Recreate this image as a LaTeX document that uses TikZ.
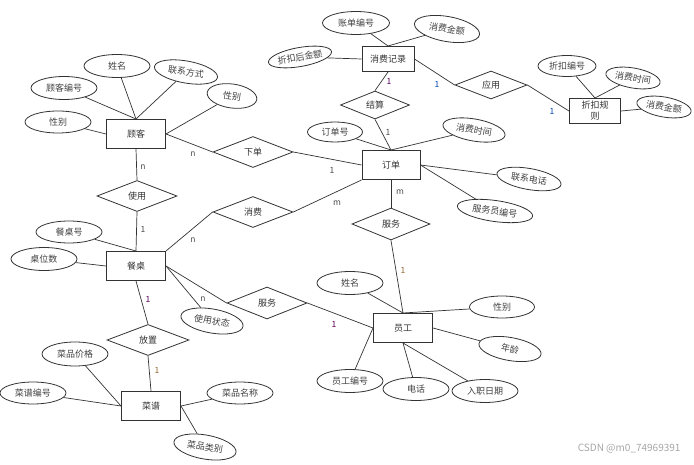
\documentclass[tikz,border=0pt]{standalone}
\usepackage{fontspec}
\setmainfont{Noto Sans CJK SC}
\usetikzlibrary{shapes.geometric}

\begin{document}
\begin{tikzpicture}[
    x=1pt, y=-1pt,
    ent/.style={draw=black!80, line width=1pt, rectangle, minimum width=59pt, minimum height=29pt, inner sep=1pt, font=\fontsize{9}{11}\selectfont, text=black!80, align=center},
    rel/.style={draw=black!80, line width=0.8pt, diamond, minimum width=80pt, minimum height=31pt, inner sep=0pt, font=\fontsize{9}{11}\selectfont, text=black!80},
    attr/.style={draw=black!80, line width=0.8pt, ellipse, minimum width=66pt, minimum height=23pt, inner sep=0pt, font=\fontsize{9}{11}\selectfont, text=black!75},
    card/.style={font=\fontsize{8.5}{10}\selectfont, text=black!70},
    lk/.style={draw=black!80, line width=0.7pt}
]
    \useasboundingbox (0,0) rectangle (694,465);

    % Entities
    \node[ent] (gk) at (136,134) {顾客};
    \node[ent, minimum width=52pt, minimum height=25pt] (xfjl) at (388,59) {消费记录};
    \node[ent, minimum width=51pt, minimum height=25pt] (zkgz) at (595,111) {折扣规\\则};
    \node[ent, minimum width=58pt] (dd) at (391,165) {订单};
    \node[ent] (cz) at (136,266) {餐桌};
    \node[ent] (yg) at (403,328) {员工};
    \node[ent] (cp) at (151,406) {菜谱};

    % Relationships
    \node[rel] (xd) at (253,152) {下单};
    \node[rel] (xf) at (253,212) {消费};
    \node[rel] (sy) at (137,196) {使用};
    \node[rel, minimum width=69pt, minimum height=28pt] (js) at (375,105) {结算};
    \node[rel, minimum width=72pt, minimum height=28pt] (yy) at (491,85) {应用};
    \node[rel, minimum width=78pt, minimum height=32pt] (fw1) at (391,224) {服务};
    \node[rel, minimum width=80pt, minimum height=32pt] (fw2) at (267,303) {服务};
    \node[rel, minimum width=82pt] (fz) at (148,340) {放置};

    % Attributes: 顾客
    \node[attr] (gk1) at (64,88) {顾客编号};
    \node[attr] (gk2) at (117,66) {姓名};
    \node[attr, rotate=-10, minimum width=64pt, minimum height=22pt] (gk3) at (186,72) {联系方式};
    \node[attr, rotate=-8, minimum width=50pt, minimum height=24pt] (gk4) at (232,96) {性别};
    \node[attr, minimum height=22pt] (gk5) at (58,122) {性别};
    \draw[lk] (gk1) -- (gk.north);
    \draw[lk] (gk2) -- (gk.north);
    \draw[lk] (gk3) -- (gk.north);
    \draw[lk] (gk4) -- (gk.east);
    \draw[lk] (gk5) -- (gk.west);

    % Attributes: 消费记录
    \node[attr, minimum width=67pt] (xfjl1) at (356,23) {账单编号};
    \node[attr, rotate=-10, minimum width=66pt, minimum height=25pt] (xfjl2) at (447,29) {消费金额};
    \node[attr, rotate=10, minimum width=64pt, minimum height=19pt] (xfjl3) at (300,57) {折扣后金额};
    \draw[lk] (xfjl1) -- (xfjl.north);
    \draw[lk] (xfjl2) -- (xfjl.north);
    \draw[lk] (xfjl3) -- (xfjl.west);

    % Attributes: 折扣规则
    \node[attr, minimum width=58pt, minimum height=21pt] (zkgz1) at (567,66) {折扣编号};
    \node[attr, rotate=-10, minimum width=55pt, minimum height=20pt] (zkgz2) at (633,78) {消费时间};
    \node[attr, rotate=-10, minimum width=55pt, minimum height=20pt] (zkgz3) at (664,107) {消费金额};
    \draw[lk] (zkgz1) -- (zkgz.north);
    \draw[lk] (zkgz2) -- (zkgz.north);
    \draw[lk] (zkgz3) -- (zkgz.east);

    % Attributes: 订单
    \node[attr, minimum width=55pt, minimum height=20pt] (dd1) at (335,132) {订单号};
    \node[attr, rotate=-10, minimum width=63pt, minimum height=22pt] (dd2) at (474,130) {消费时间};
    \node[attr, rotate=-10, minimum width=65pt, minimum height=21pt] (dd3) at (529,179) {联系电话};
    \node[attr, rotate=-8, minimum width=76pt, minimum height=21pt] (dd4) at (495,211) {服务员编号};
    \draw[lk] (dd1) -- (dd.north);
    \draw[lk] (dd2) -- (dd.north);
    \draw[lk] (dd3) -- (dd.east);
    \draw[lk] (dd4) -- (dd.east);

    % Attributes: 餐桌
    \node[attr, minimum height=22pt] (cz1) at (69,232) {餐桌号};
    \node[attr] (cz2) at (44,259) {桌位数};
    \node[attr, rotate=-10, minimum width=63pt, minimum height=24pt] (cz3) at (212,321) {使用状态};
    \draw[lk] (cz1) -- (cz.north);
    \draw[lk] (cz2) -- (cz.west);
    \draw[lk] (cz3) -- (cz.east);

    % Attributes: 员工
    \node[attr] (yg1) at (350,283) {姓名};
    \node[attr, minimum width=65pt, minimum height=22pt] (yg2) at (502,307) {性别};
    \node[attr, rotate=-10, minimum width=63pt, minimum height=23pt] (yg3) at (510,349) {年龄};
    \node[attr] (yg4) at (350,381) {员工编号};
    \node[attr] (yg5) at (416,389) {电话};
    \node[attr] (yg6) at (485,391) {入职日期};
    \draw[lk] (yg1) -- (yg.north);
    \draw[lk] (yg2) -- (yg.north);
    \draw[lk] (yg3) -- (yg.east);
    \draw[lk] (yg4) -- (yg.west);
    \draw[lk] (yg5) -- (yg.south);
    \draw[lk] (yg6) -- (yg.south);

    % Attributes: 菜谱
    \node[attr, minimum height=24pt] (cp1) at (75,354) {菜品价格};
    \node[attr, minimum height=22pt] (cp2) at (33,393) {菜谱编号};
    \node[attr, minimum height=22pt] (cp3) at (240,393) {菜品名称};
    \node[attr, rotate=-10, minimum width=63pt, minimum height=24pt] (cp4) at (205,447) {菜品类别};
    \draw[lk] (cp1) -- (cp.west);
    \draw[lk] (cp2) -- (cp.west);
    \draw[lk] (cp3) -- (cp.east);
    \draw[lk] (cp4) -- (cp.east);

    % Relationship links
    \draw[lk] (gk.east) -- (xd.west);
    \draw[lk] (xd.east) -- (dd.west);
    \draw[lk] (gk.south) -- (sy.north);
    \draw[lk] (sy.south) -- (cz.north);
    \draw[lk] (cz.north east) -- (xf.west);
    \draw[lk] (xf.east) -- (dd.south west);
    \draw[lk] (xfjl.south) -- (js.north);
    \draw[lk] (js.south) -- (dd.north);
    \draw[lk] (xfjl.east) -- (yy.west);
    \draw[lk] (yy.east) -- (zkgz.west);
    \draw[lk] (dd.south) -- (fw1.north);
    \draw[lk] (fw1.south) -- (yg.north);
    \draw[lk] (cz.east) -- (fw2.west);
    \draw[lk] (fw2.east) -- (yg.west);
    \draw[lk] (cz.south) -- (fz.north);
    \draw[lk] (fz.south) -- (cp.north);

    % Cardinalities
    \node[card] (l1) at (193,154) {n};
    \node[card] (l2) at (332,170) {1};
    \node[card] (l3) at (143,167) {n};
    \node[card] (l4) at (143,229) {1};
    \node[card] (l5) at (193,240) {n};
    \node[card] (l6) at (337,203) {m};
    \node[card, text=violet!70!black] (l7) at (389,81) {1};
    \node[card] (l8) at (388,132) {1};
    \node[card, text=blue!60!cyan!70!black] (l9) at (437,84) {1};
    \node[card, text=blue!60!cyan!70!black] (l10) at (552,111) {1};
    \node[card] (l11) at (400,192) {m};
    \node[card, text=brown!80!black] (l12) at (403,270) {1};
    \node[card] (l13) at (203,299) {n};
    \node[card, text=violet!70!black] (l14) at (334,324) {1};
    \node[card, text=violet!70!black] (l15) at (148,299) {1};
    \node[card, text=brown!80!black] (l16) at (157,370) {1};

    % Watermark
    \node[anchor=east, font=\fontsize{10}{12}\selectfont, text=black!35] (wm) at (684,449) {CSDN @m0\_74969391};
\end{tikzpicture}
\end{document}
